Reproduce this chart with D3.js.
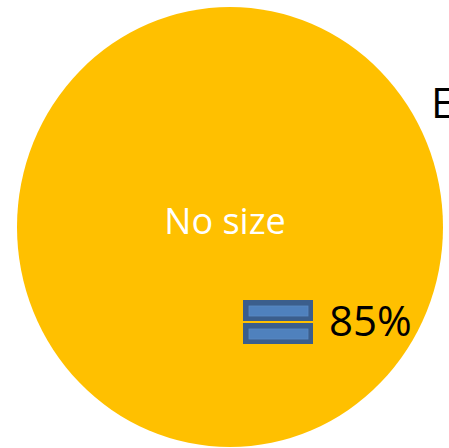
<!DOCTYPE html>
<html>
  <head>
    <meta charset="utf-8" />
    <script src="https://d3js.org/d3.v7.min.js"></script>
    <style>
      body { margin: 0; background: #fff; }
      text { font-family: "Open Sans", sans-serif; }
    </style>
  </head>
  <body>
    <svg id="chart" width="449" height="448"></svg>

    <script>
      var categories = ["No size"];
      var values = [85];
      var pctLabels = ["85%"];
      var titleText = "E";

      var svg = d3.select("#chart");
      // the pie is drawn a little taller than wide in the original
      var cx = 230, cy = 227, rx = 213, ry = 220;

      var pie = d3.pie().sort(null);
      var arc = d3.arc().innerRadius(0).outerRadius(rx);
      var color = d3.scaleOrdinal().domain(categories).range(["#FFC000"]);

      var g = svg.append("g").attr("transform", "translate(" + cx + "," + cy + ")");

      g.append("g")
        .attr("transform", "scale(1," + (ry / rx) + ")")
        .selectAll(".slice")
        .data(pie(values))
        .enter().append("path")
        .attr("class", "slice")
        .attr("d", arc)
        .attr("fill", function(d, i) { return color(categories[i]); });

      // category label in the middle
      g.selectAll(".cat")
        .data(categories)
        .enter().append("text")
        .attr("class", "cat")
        .attr("x", -5)
        .attr("y", 7)
        .attr("text-anchor", "middle")
        .attr("font-size", 36)
        .attr("fill", "#fff")
        .text(function(d) { return d; });

      // little stacked-bar icon + percent
      var icon = g.append("g").attr("transform", "translate(13,73)");
      [0, 23].forEach(function(dy) {
        icon.append("rect")
          .attr("x", 0).attr("y", dy)
          .attr("width", 70).attr("height", 21)
          .attr("fill", "#3B5E8C");
        icon.append("rect")
          .attr("x", 6).attr("y", dy + 6)
          .attr("width", 59).attr("height", 10)
          .attr("fill", "#4F81BD")
          .attr("stroke", "#5A8AC4")
          .attr("stroke-width", 0.8);
      });

      g.selectAll(".pct")
        .data(pctLabels)
        .enter().append("text")
        .attr("class", "pct")
        .attr("x", 99)
        .attr("y", 109)
        .attr("font-size", 42)
        .attr("fill", "#000")
        .text(function(d) { return d; });

      svg.append("text")
        .attr("x", 431)
        .attr("y", 118)
        .attr("font-size", 42)
        .attr("fill", "#000")
        .text(titleText);
    </script>
  </body>
</html>
